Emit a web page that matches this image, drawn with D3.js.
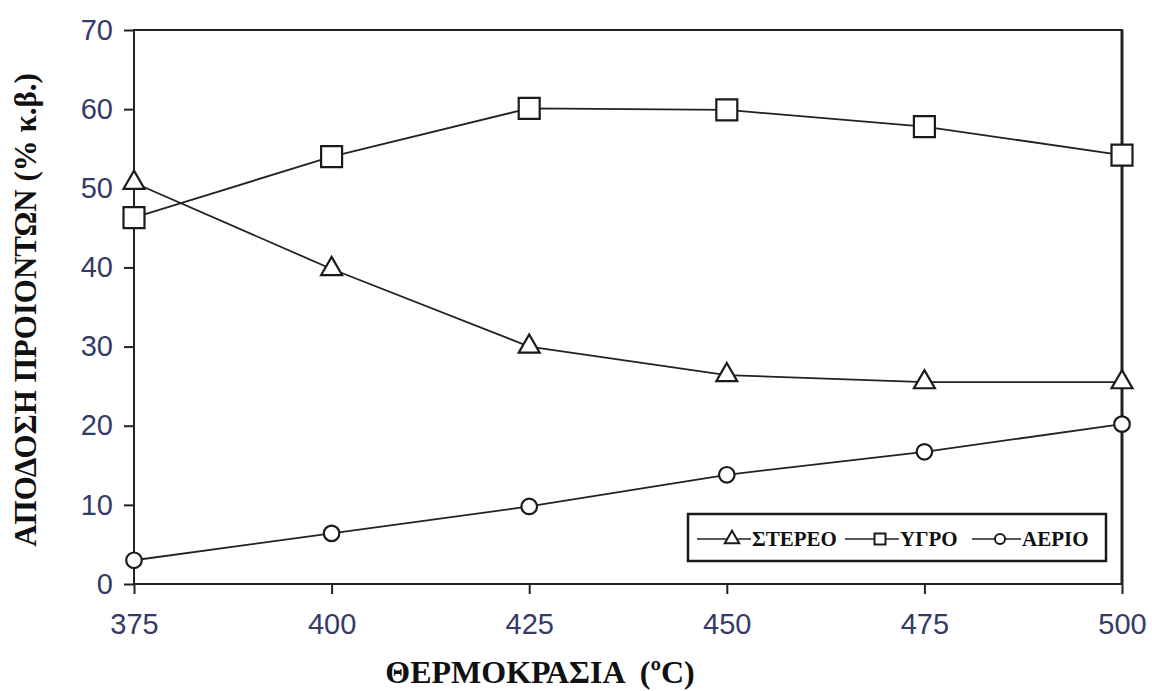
<!DOCTYPE html>
<html>
<head>
<meta charset="utf-8">
<script src="https://cdn.jsdelivr.net/npm/d3@7"></script>
<style>
  body { margin: 0; background: #fff; }
  .tick text { font-family: "Liberation Sans", Arial, sans-serif; font-size: 29px; fill: #353a68; }
  .axisLb { font-family: "Liberation Serif", "Times New Roman", serif; font-weight: bold; fill: #111; white-space: pre; }
  .legTxt { font-family: "Liberation Serif", "Times New Roman", serif; font-weight: bold; font-size: 21px; fill: #111; }
</style>
</head>
<body>
<div id="main"></div>
<script>
// temperatures (x) and yields (% w/w)
const temps = [375, 400, 425, 450, 475, 500];
const stereo = [50.7, 39.8, 30.0, 26.4, 25.5, 25.5];
const ygro = [46.3, 54.0, 60.1, 59.9, 57.8, 54.2];
const aerio = [3.0, 6.4, 9.8, 13.8, 16.7, 20.2];
const yTicks = [0, 10, 20, 30, 40, 50, 60, 70];
const seriesNames = ["ΣΤΕΡΕΟ", "ΥΓΡΟ", "ΑΕΡΙΟ"];

const ctx = {
    w: 1152,
    h: 691,
    m: {l: 134, r: 30, t: 30, b: 107},
};

function markerPath(name, size){
    const types = {"ΣΤΕΡΕΟ": d3.symbolTriangle, "ΥΓΡΟ": d3.symbolSquare, "ΑΕΡΙΟ": d3.symbolCircle};
    return d3.symbol().type(types[name]).size(size)();
}

function createViz(){
    let svgEl = d3.select("#main").append("svg")
        .attr("width", ctx.w).attr("height", ctx.h);
    let g = svgEl.append("g");
    const x0 = ctx.m.l, x1 = ctx.w - ctx.m.r, y0 = ctx.h - ctx.m.b, y1 = ctx.m.t;
    ctx.xScale = d3.scaleLinear().domain([375, 500]).range([x0, x1]);
    ctx.yScale = d3.scaleLinear().domain([0, 70]).range([y0, y1]);

    // axes
    let ax = g.append("g").attr("transform", `translate(0,${y0})`)
        .call(d3.axisBottom(ctx.xScale).tickValues(temps).tickSize(10).tickSizeOuter(0).tickPadding(19));
    let ay = g.append("g").attr("transform", `translate(${x0},0)`)
        .call(d3.axisLeft(ctx.yScale).tickValues(yTicks).tickSize(10).tickSizeOuter(0).tickPadding(11));
    [ax, ay].forEach(a => {
        a.select(".domain").remove();
        a.selectAll("line").attr("stroke", "#222").attr("stroke-width", 2);
    });
    // frame
    g.append("rect").attr("x", x0).attr("y", y1).attr("width", x1 - x0).attr("height", y0 - y1)
        .attr("fill", "none").attr("stroke", "#222").attr("stroke-width", 2);
    g.append("line").attr("x1", x1).attr("x2", x1).attr("y1", y1).attr("y2", y0)
        .attr("stroke", "#222").attr("stroke-width", 3);

    // axis labels
    g.append("text").classed("axisLb", true)
        .attr("x", 540).attr("y", 683).attr("text-anchor", "middle")
        .style("font-size", "32px")
        .text("ΘΕΡΜΟΚΡΑΣΙΑ  (\u00BAC)");
    g.append("text").classed("axisLb", true)
        .attr("transform", "translate(36,310) rotate(-90)")
        .attr("text-anchor", "middle")
        .style("font-size", "31px")
        .text("ΑΠΟΔΟΣΗ ΠΡΟΙΟΝΤΩΝ (% κ.β.)");

    // series
    const data = [stereo, ygro, aerio];
    const sizes = [190, 440, 190];
    const line = d3.line().x((d, i) => ctx.xScale(temps[i])).y(d => ctx.yScale(d));
    data.forEach((vals, k) => {
        g.append("path").attr("d", line(vals))
            .attr("fill", "none").attr("stroke", "#222").attr("stroke-width", 1.8);
        g.selectAll(null).data(vals).enter().append("path")
            .attr("transform", (d, i) => `translate(${ctx.xScale(temps[i])},${ctx.yScale(d)})`)
            .attr("d", markerPath(seriesNames[k], sizes[k]))
            .attr("fill", "#fff").attr("stroke", "#1a1a1a").attr("stroke-width", 2.2);
    });

    // legend
    let lg = g.append("g");
    lg.append("rect").attr("x", 688).attr("y", 514).attr("width", 418).attr("height", 47)
        .attr("fill", "#fff").attr("stroke", "#1a1a1a").attr("stroke-width", 2.5);
    // per item: line start, marker x, line end, text x
    const legPos = [[697, 732, 751, 752], [845, 880, 899, 900], [972, 1000, 1021, 1022]];
    const legSizes = [90, 120, 80];
    seriesNames.forEach((name, k) => {
        let p = legPos[k];
        lg.append("line").attr("x1", p[0]).attr("x2", p[2]).attr("y1", 539).attr("y2", 539)
            .attr("stroke", "#222").attr("stroke-width", 1.5);
        lg.append("path").attr("transform", `translate(${p[1]},539)`)
            .attr("d", markerPath(name, legSizes[k]))
            .attr("fill", "#fff").attr("stroke", "#1a1a1a").attr("stroke-width", 2);
        lg.append("text").classed("legTxt", true)
            .attr("x", p[3]).attr("y", 546).text(name);
    });
}

createViz();
</script>
</body>
</html>
